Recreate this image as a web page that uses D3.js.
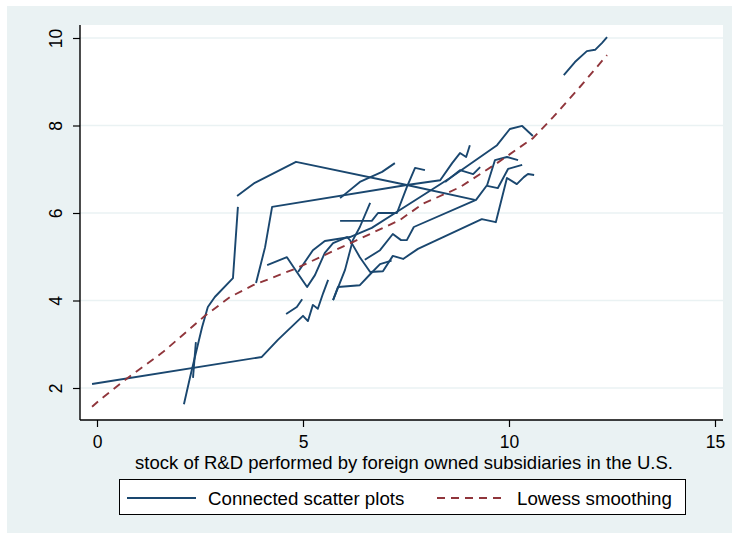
<!DOCTYPE html>
<html><head><meta charset="utf-8">
<script src="https://cdn.jsdelivr.net/npm/d3@7"></script>
<style>body{margin:0;background:#fff}svg{display:block}text{font-family:"Liberation Sans",Arial,sans-serif;fill:#000}</style>
</head><body><svg id="c" width="732" height="535"></svg>
<script>
// x and y values of each connected panel series
const s1x=[-0.12,4.00,4.39,5.00,5.12,5.24,5.36,5.49,5.61];
const s1y=[2.09,2.71,3.10,3.65,3.53,3.90,3.81,4.17,4.47];
const s2x=[2.11,2.26,2.55,2.69,2.86,3.30,3.42];
const s2y=[1.63,2.25,3.39,3.85,4.08,4.51,6.14];
const s3x=[2.33,2.40];
const s3y=[2.23,3.05];
const s4x=[3.40,3.83,4.83,7.52,9.17];
const s4y=[6.39,6.69,7.17,6.64,6.30];
const s5x=[3.86,4.08,4.25,7.52,8.33,8.62,8.81,8.96,9.05];
const s5y=[4.40,5.22,6.14,6.64,6.75,7.14,7.37,7.28,7.55];
const s6x=[4.13,4.61,4.85,5.10,5.29,5.53,5.73,6.07,6.14,6.38,6.63,6.94,7.18,7.43,7.79,9.34,9.68,9.95,10.19,10.36,10.46,10.61];
const s6y=[4.81,4.99,4.65,4.31,4.58,5.09,5.31,5.45,5.38,4.99,4.65,4.67,5.02,4.95,5.18,5.86,5.79,6.80,6.66,6.82,6.89,6.87];
const s7x=[5.90,6.67,6.82,7.28,7.52,7.72,7.96];
const s7y=[5.82,5.82,6.00,6.00,6.59,7.03,6.98];
const s8x=[5.73,6.02,6.21,6.38,6.63];
const s8y=[4.01,4.70,5.38,5.68,6.23];
const s9x=[4.88,5.24,5.53,6.14,6.67,7.35,8.57,9.71,10.02,10.32,10.58];
const s9y=[4.65,5.15,5.36,5.45,5.66,6.07,6.80,7.55,7.92,7.99,7.76];
const s10x=[5.73,5.85,6.38,6.63,6.87,7.15];
const s10y=[4.01,4.31,4.35,4.60,4.83,4.91];
const s11x=[6.50,6.87,7.18,7.38,7.52,7.69,9.20,9.47,9.66,9.95,10.22];
const s11y=[4.93,5.15,5.52,5.38,5.38,5.68,6.30,6.64,7.21,7.28,7.21];
const s12x=[11.33,11.60,11.89,12.09,12.26,12.38];
const s12y=[9.15,9.45,9.70,9.73,9.89,10.02];
const s13x=[5.90,6.38,6.92,7.23];
const s13y=[6.34,6.71,6.94,7.14];
const s14x=[8.45,8.81,9.13,9.30];
const s14y=[6.71,6.98,6.89,7.05];
const s15x=[4.59,4.85,4.98];
const s15y=[3.69,3.85,4.03];
const s16x=[9.47,9.73,9.98,10.32];
const s16y=[6.62,6.57,7.01,7.10];
// lowess smoothing curve
const lowX=[-0.12,0.07,0.80,1.60,2.62,3.23,3.79,4.85,5.73,6.31,7.35,7.91,8.81,9.71,10.58,11.07,11.72,12.38];
const lowY=[1.57,1.73,2.27,2.82,3.65,4.08,4.35,4.74,5.13,5.38,5.84,6.21,6.59,7.14,7.71,8.19,8.88,9.61];
const xTicks=[0,5,10,15];
const yTicks=[2,4,6,8,10];
const xTitle="stock of R&D performed by foreign owned subsidiaries in the U.S.";
const legendLabels=["Connected scatter plots","Lowess smoothing"];

const seriesX=[s1x,s2x,s3x,s4x,s5x,s6x,s7x,s8x,s9x,s10x,s11x,s12x,s13x,s14x,s15x,s16x];
const seriesY=[s1y,s2y,s3y,s4y,s5y,s6y,s7y,s8y,s9y,s10y,s11y,s12y,s13y,s14y,s15y,s16y];

const BLUE="#1a476f", RED="#90353b", BG="#eaf2f3";
const svg=d3.select("#c");
svg.append("rect").attr("x",7).attr("y",6).attr("width",725).attr("height",527).attr("fill",BG);
const L=80,R=723,T=25,B=420;
svg.append("rect").attr("x",L).attr("y",T).attr("width",R-L).attr("height",B-T).attr("fill","#fff");
const x=d3.scaleLinear().domain([0,15]).range([97,715]);
const y=d3.scaleLinear().domain([2,10]).range([388,38]);

// gridlines
svg.append("g").selectAll("line").data(yTicks).join("line")
 .attr("x1",L).attr("x2",R).attr("y1",d=>y(d)).attr("y2",d=>y(d))
 .attr("stroke",BG).attr("stroke-width",1.5);

// series
const line=d3.line().x(d=>x(d[0])).y(d=>y(d[1]));
const g=svg.append("g");
seriesX.forEach((sx,i)=>{
  const pts=sx.map((v,j)=>[v,seriesY[i][j]]);
  g.append("path").attr("d",line(pts)).attr("fill","none").attr("stroke",BLUE).attr("stroke-width",1.9).attr("stroke-linejoin","round");
});
svg.append("path").attr("d",line(lowX.map((v,j)=>[v,lowY[j]]))).attr("fill","none")
 .attr("stroke",RED).attr("stroke-width",1.9).attr("stroke-dasharray","8,6");

// axes
const FS="17.5px";
const ax=svg.append("g").attr("transform",`translate(0,${B})`).call(d3.axisBottom(x).tickValues(xTicks).tickSize(7).tickPadding(0).tickFormat(d3.format("d")));
ax.select(".domain").remove();
ax.selectAll("line").attr("stroke","#000").attr("stroke-width",1.2);
ax.selectAll("text").attr("y",28).attr("dy",0).style("font-size",FS).style("font-family","'Liberation Sans',Arial,sans-serif");
const ay=svg.append("g").attr("transform",`translate(${L},0)`).call(d3.axisLeft(y).tickValues(yTicks).tickSize(7).tickFormat(d3.format("d")));
ay.select(".domain").remove();
ay.selectAll("line").attr("stroke","#000").attr("stroke-width",1.2);
ay.selectAll("text").attr("x",0).attr("dy",0).attr("text-anchor","middle")
  .attr("transform","translate(-18,0) rotate(-90)")
  .style("font-size",FS).style("font-family","'Liberation Sans',Arial,sans-serif");
svg.append("line").attr("x1",L).attr("x2",L).attr("y1",T).attr("y2",B).attr("stroke","#000").attr("stroke-width",1.4);
svg.append("line").attr("x1",L).attr("x2",R).attr("y1",B).attr("y2",B).attr("stroke","#000").attr("stroke-width",1.4);

svg.append("text").attr("x",404).attr("y",469).attr("text-anchor","middle").style("font-size","18.5px").text(xTitle);

// legend
const lg=svg.append("g");
lg.append("rect").attr("x",119.5).attr("y",479.5).attr("width",566).attr("height",35).attr("fill","#fff").attr("stroke","#000").attr("stroke-width",1);
lg.append("line").attr("x1",127).attr("x2",196).attr("y1",498).attr("y2",498).attr("stroke",BLUE).attr("stroke-width",1.9);
lg.append("text").attr("x",208).attr("y",504.5).style("font-size","18.7px").text(legendLabels[0]);
lg.append("line").attr("x1",437).attr("x2",506).attr("y1",498).attr("y2",498).attr("stroke",RED).attr("stroke-width",1.9).attr("stroke-dasharray","8,6");
lg.append("text").attr("x",517).attr("y",504.5).style("font-size","18.7px").text(legendLabels[1]);
</script></body></html>
